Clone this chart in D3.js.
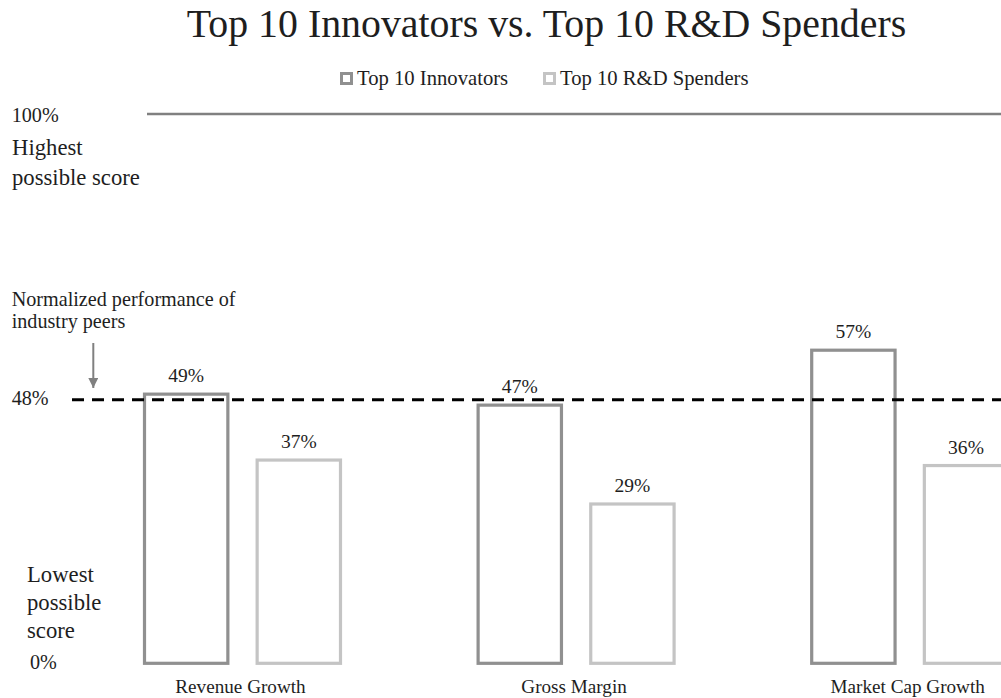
<!DOCTYPE html>
<html>
<head>
<meta charset="utf-8">
<script src="https://cdn.jsdelivr.net/npm/d3@7"></script>
<style>
  html, body { margin: 0; padding: 0; background: #fff; overflow: hidden; }
  svg { display: block; font-family: "Liberation Serif", "Times New Roman", "DejaVu Serif", "Noto Serif", serif; }
</style>
</head>
<body>
<svg id="chart" width="1001" height="698"></svg>
<script>
// Chart data
const categories = ["Revenue Growth", "Gross Margin", "Market Cap Growth"];
const seriesNames = ["Top 10 Innovators", "Top 10 R&D Spenders"];
const innovatorScores = [49, 47, 57];
const spenderScores = [37, 29, 36];
const peerLevel = 48;
const axisTicks = [0, 48, 100];
const axisTickLabels = ["0%", "48%", "100%"];

const colors = { "Top 10 Innovators": "#909090", "Top 10 R&D Spenders": "#c4c4c4" };
const textColor = "#1e1e1e";

const svg = d3.select("#chart");

// Sizes below are set for Times-like metrics; rescale when the serif
// that is actually installed runs wider or narrower.
const probe = svg.append("text").attr("font-size", 100).text("Top 10 Innovators vs. Top 10 R&D Spenders");
const fontScale = Math.min(1.05, 1822 / probe.node().getComputedTextLength());
probe.remove();
const fs = (px) => px * fontScale;

const y = d3.scaleLinear().domain([0, 100]).range([663.3, 114]);

const x0 = d3.scaleBand()
  .domain(categories)
  .range([75.7, 1076.5])
  .paddingInner(0.4125)
  .paddingOuter(0.20625);

const x1 = d3.scaleBand()
  .domain(seriesNames)
  .range([0, x0.bandwidth()])
  .paddingInner(0.26);

const rows = categories.map((c, i) => ({
  category: c,
  values: [
    { series: seriesNames[0], value: innovatorScores[i] },
    { series: seriesNames[1], value: spenderScores[i] }
  ]
}));

// Title
svg.append("text")
  .attr("x", 546.5)
  .attr("y", 37)
  .attr("text-anchor", "middle")
  .attr("font-size", fs(39.5))
  .attr("fill", textColor)
  .text("Top 10 Innovators vs. Top 10 R&D Spenders");

// Legend
const legendPos = [340, 543];
const legend = svg.append("g");
seriesNames.forEach((s, i) => {
  const g = legend.append("g").attr("transform", `translate(${legendPos[i]},0)`);
  g.append("rect")
    .attr("x", 1.5).attr("y", 73.5)
    .attr("width", 10).attr("height", 10)
    .attr("fill", "#fff")
    .attr("stroke", colors[s])
    .attr("stroke-width", 3);
  g.append("text")
    .attr("x", 17).attr("y", 85)
    .attr("font-size", fs(20.5))
    .attr("fill", textColor)
    .text(s);
});

// 100% reference line
svg.append("line")
  .attr("x1", 147).attr("x2", 1001)
  .attr("y1", y(100)).attr("y2", y(100))
  .attr("stroke", "#808080")
  .attr("stroke-width", 2.5);

// Left-hand scale labels
svg.append("g").selectAll("text")
  .data(axisTicks)
  .join("text")
  .attr("x", (d) => d === 0 ? 30 : 11.7)
  .attr("y", (d) => y(d) + (d === 100 ? 8 : 5.5))
  .attr("font-size", fs(20))
  .attr("fill", textColor)
  .text((d, i) => axisTickLabels[i]);

// Descriptive notes
const highNote = svg.append("text").attr("font-size", fs(22.5)).attr("fill", textColor);
highNote.append("tspan").attr("x", 12).attr("y", 155).text("Highest");
highNote.append("tspan").attr("x", 12).attr("y", 185).text("possible score");

const peerNote = svg.append("text").attr("font-size", fs(20)).attr("fill", textColor);
peerNote.append("tspan").attr("x", 11.7).attr("y", 306).text("Normalized performance of");
peerNote.append("tspan").attr("x", 11.7).attr("y", 328).text("industry peers");

const lowNote = svg.append("text").attr("font-size", fs(22.5)).attr("fill", textColor);
lowNote.append("tspan").attr("x", 27).attr("y", 582).text("Lowest");
lowNote.append("tspan").attr("x", 27).attr("y", 610).text("possible");
lowNote.append("tspan").attr("x", 27).attr("y", 638).text("score");

// Arrow pointing to the peer line
svg.append("defs").append("marker")
  .attr("id", "arrowhead")
  .attr("viewBox", "0 0 10 10")
  .attr("refX", 10).attr("refY", 5)
  .attr("markerWidth", 5).attr("markerHeight", 5)
  .attr("markerUnits", "strokeWidth")
  .attr("orient", "auto")
  .append("path")
  .attr("d", "M0,0 L10,5 L0,10 Z")
  .attr("fill", "#808080");

svg.append("line")
  .attr("x1", 93.3).attr("x2", 93.3)
  .attr("y1", 343).attr("y2", 388)
  .attr("stroke", "#808080")
  .attr("stroke-width", 2)
  .attr("marker-end", "url(#arrowhead)");

// Bars
const groups = svg.append("g").selectAll("g")
  .data(rows)
  .join("g")
  .attr("transform", (d) => `translate(${x0(d.category)},0)`);

groups.selectAll("rect")
  .data((d) => d.values)
  .join("rect")
  .attr("x", (d) => x1(d.series))
  .attr("y", (d) => y(d.value))
  .attr("width", x1.bandwidth())
  .attr("height", (d) => y(0) - y(d.value))
  .attr("fill", "#fff")
  .attr("stroke", (d) => colors[d.series])
  .attr("stroke-width", 3.2);

groups.selectAll("text.value")
  .data((d) => d.values)
  .join("text")
  .attr("class", "value")
  .attr("x", (d) => x1(d.series) + x1.bandwidth() / 2)
  .attr("y", (d) => y(d.value) - 12)
  .attr("text-anchor", "middle")
  .attr("font-size", fs(19.4))
  .attr("fill", textColor)
  .text((d) => d.value + "%");

// Category labels
svg.append("g").selectAll("text")
  .data(categories)
  .join("text")
  .attr("x", (d) => x0(d) + x0.bandwidth() / 2 - 2)
  .attr("y", 693)
  .attr("text-anchor", "middle")
  .attr("font-size", fs(19))
  .attr("fill", textColor)
  .text((d) => d);

// Peer performance line drawn over the bars
svg.append("line")
  .attr("x1", 72).attr("x2", 1001)
  .attr("y1", y(peerLevel)).attr("y2", y(peerLevel))
  .attr("stroke", "#000")
  .attr("stroke-width", 3)
  .attr("stroke-dasharray", "12,8");
</script>
</body>
</html>
